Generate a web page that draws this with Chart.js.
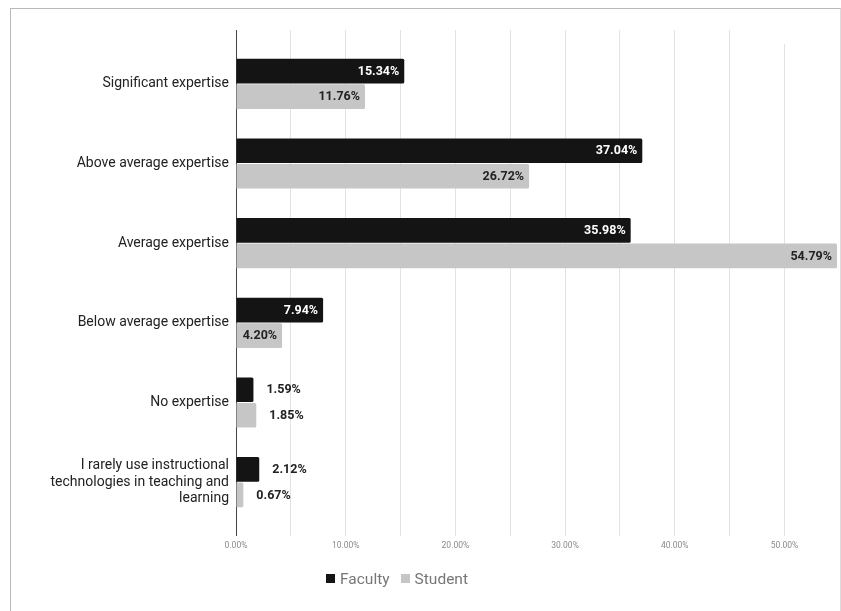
<!DOCTYPE html>
<html>
<head>
<meta charset="utf-8">
<script src="https://cdn.jsdelivr.net/npm/chart.js@4"></script>
<style>
  body { margin: 0; background: #fff; font-family: Roboto, sans-serif; }
  #frame { position: absolute; left: 10px; top: 8px; width: 829px; height: 640px;
           border: 1px solid #b8b8b8; border-right-color: #dcdcdc; }
  #wrap { position: absolute; left: 0; top: 0; width: 841px; height: 611px; }
  #legend { position: absolute; left: 326px; top: 569px; font-size: 15.5px; color: #777;
            white-space: nowrap; line-height: 20px; }
  #legend span.box { display: inline-block; width: 9px; height: 9px; margin-right: 5px; vertical-align: 1px; }
  #legend span.lbl { margin-right: 11px; }
</style>
</head>
<body>
<div id="frame"></div>
<div id="wrap"><canvas id="myChart" width="841" height="611"></canvas></div>
<div id="legend"></div>
<script>
var categories = [
  "Significant expertise",
  "Above average expertise",
  "Average expertise",
  "Below average expertise",
  "No expertise",
  ["I rarely use instructional", "technologies in teaching and", "learning"]
];
var faculty = [15.34, 37.04, 35.98, 7.94, 1.59, 2.12];
var student = [11.76, 26.72, 54.79, 4.20, 1.85, 0.67];
var seriesNames = ["Faculty", "Student"];
var seriesColors = ["#141414", "#c6c6c6"];
var xMax = Math.max.apply(null, faculty.concat(student));

// html legend
var leg = document.getElementById("legend");
seriesNames.forEach(function(name, i){
  leg.innerHTML += '<span class="box" style="background:' + seriesColors[i] + '"></span>' +
                   '<span class="lbl">' + name + '</span>';
});

var valueLabels = {
  id: "valueLabels",
  afterDatasetsDraw: function(chart){
    var ctx = chart.ctx;
    ctx.save();
    ctx.font = "bold 12.5px Roboto";
    ctx.textBaseline = "middle";
    chart.data.datasets.forEach(function(ds, di){
      var meta = chart.getDatasetMeta(di);
      meta.data.forEach(function(bar, i){
        var txt = ds.data[i].toFixed(2) + "%";
        var w = ctx.measureText(txt).width;
        var len = bar.x - bar.base;
        if (w + 10 < len) {
          ctx.textAlign = "right";
          ctx.fillStyle = di === 0 ? "#ffffff" : "#222222";
          ctx.fillText(txt, bar.x - 5, bar.y + 0.5);
        } else {
          ctx.textAlign = "left";
          ctx.fillStyle = "#222222";
          ctx.fillText(txt, bar.x + 13, bar.y + 0.5);
        }
      });
    });
    ctx.restore();
  }
};

function gridCol(c){ return c.tick && c.tick.value === 0 ? "#444" : "#e3e3e3"; }
function keepFives(scale){
  scale.ticks = scale.ticks.filter(function(t){ return Math.abs(t.value % 5) < 1e-6; });
}

var chart = new Chart(document.getElementById("myChart"), {
  type: "bar",
  data: {
    labels: categories,
    datasets: [
      { label: seriesNames[0], data: faculty, backgroundColor: seriesColors[0] },
      { label: seriesNames[1], data: student, backgroundColor: seriesColors[1] }
    ]
  },
  options: {
    indexAxis: "y",
    responsive: false,
    animation: false,
    devicePixelRatio: 1,
    categoryPercentage: 0.64,
    barPercentage: 0.97,
    borderRadius: 1.5,
    borderSkipped: "start",
    layout: { padding: { left: 0, right: 4, top: 30, bottom: 0 } },
    plugins: {
      legend: { display: false },
      tooltip: { enabled: false }
    },
    scales: {
      x: {
        position: "bottom",
        min: 0,
        max: xMax,
        ticks: {
          stepSize: 5,
          autoSkip: false,
          maxRotation: 0,
          padding: 5,
          color: "#8a8a8a",
          font: { family: "Roboto", size: 8.5 },
          callback: function(v){ return v % 10 === 0 ? v.toFixed(2) + "%" : ""; }
        },
        afterBuildTicks: keepFives,
        afterFit: function(s){ s.height = 89; },
        grid: { color: gridCol, tickColor: gridCol, tickLength: 14, drawTicks: true },
        border: { display: false }
      },
      x2: {
        position: "top",
        min: 0,
        max: xMax,
        ticks: { display: false, stepSize: 5 },
        afterBuildTicks: keepFives,
        afterFit: function(s){ s.height = 14; },
        grid: { drawOnChartArea: false, tickColor: gridCol, tickLength: 14 },
        border: { display: false }
      },
      y: {
        ticks: {
          padding: 7,
          color: "#222",
          font: { family: "Roboto", size: 14, lineHeight: 1.18 }
        },
        afterFit: function(s){ s.width = 236; },
        grid: { display: false, drawTicks: false },
        border: { display: true, color: "#444", width: 1 }
      }
    }
  },
  plugins: [valueLabels]
});
</script>
</body>
</html>
